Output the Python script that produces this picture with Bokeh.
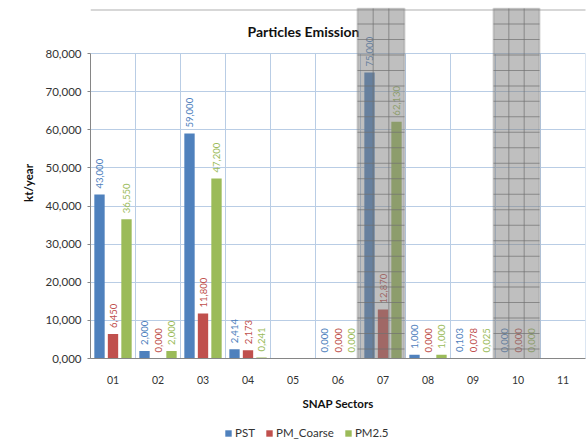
import math
from bokeh.plotting import figure
from bokeh.layouts import column
from bokeh.models import (ColumnDataSource, FixedTicker, Range1d, BoxAnnotation,
                          Label, Legend, LegendItem)
from bokeh.embed import file_html
from bokeh.resources import INLINE
from bokeh.core.properties import value

# ---------------- data ----------------
sectors = ["01", "02", "03", "04", "05", "06", "07", "08", "09", "10", "11"]
pst = [43000, 2000, 59000, 2414, None, 0, 75000, 1000, 103, 0, None]
pm_coarse = [6450, 0, 11800, 2173, None, 0, 12870, 0, 78, 0, None]
pm25 = [36550, 2000, 47200, 241, None, 0, 62130, 1000, 25, 0, None]
series_names = ["PST", "PM_Coarse", "PM2.5"]
series_values = [pst, pm_coarse, pm25]
series_colors = ["#4f81bd", "#c0504d", "#9bbb59"]
y_ticks = [0, 10000, 20000, 30000, 40000, 50000, 60000, 70000, 80000]
title_text = "Particles Emission"
x_title = "SNAP Sectors"
y_title = "kt/year"


def fmt(v):
    v = int(round(v))
    return f"{v // 1000},{v % 1000:03d}"


FONT = "Lato"

# layout geometry (canvas pixels)
W = 587
H_MAIN, H_LEG = 416, 25
FRAME_L, FRAME_R = 90, 585
FRAME_T, FRAME_B = 7, 358
Y_TOP_PX = 53          # where 80,000 sits
y_max = y_ticks[-1]
per_px = y_max / (FRAME_B - Y_TOP_PX)
y_end = y_max + (Y_TOP_PX - FRAME_T) * per_px

p = figure(width=W, height=H_MAIN, output_backend="svg", toolbar_location=None,
           x_range=Range1d(0.5, len(sectors) + 0.5), y_range=Range1d(0, y_end),
           min_border_left=FRAME_L, min_border_right=W - FRAME_R,
           min_border_top=FRAME_T, min_border_bottom=H_MAIN - FRAME_B,
           background_fill_color="white", border_fill_color="white",
           outline_line_color=None)

grid_col = "#b9cde5"
axis_col = "#868686"

# vertical category grid lines (only over the value range)
gx = [k + 0.5 for k in range(len(sectors) + 1)]
p.segment(x0=gx, x1=gx, y0=[0] * len(gx), y1=[y_max] * len(gx),
          line_color=grid_col, line_width=1, level="underlay")

offsets = [-0.3, 0.0, 0.3]
bar_w = 0.23
for name, vals, col, off in zip(series_names, series_values, series_colors, offsets):
    xs, tops, labels = [], [], []
    for i, v in enumerate(vals):
        if v is None:
            continue
        xs.append(i + 1 + off)
        tops.append(v)
        labels.append(fmt(v))
    src = ColumnDataSource(dict(x=xs, top=tops, label=labels))
    p.vbar(x="x", top="top", bottom=0, width=bar_w, source=src,
           fill_color=col, line_color=None)
    p.text(x="x", y="top", text="label", source=src, angle=math.pi / 2,
           text_align="left", text_baseline="middle", y_offset=-6,
           text_color=col, text_font=value(FONT), text_font_size="9.5px")

# axes
p.xaxis.ticker = FixedTicker(ticks=list(range(1, len(sectors) + 1)))
p.xaxis.major_label_overrides = {i + 1: s for i, s in enumerate(sectors)}
p.xaxis.major_tick_line_color = None
p.xaxis.minor_tick_line_color = None
p.xaxis.axis_line_color = axis_col
p.xaxis.major_label_text_font = FONT
p.xaxis.major_label_text_font_size = "10.5px"
p.xaxis.major_label_text_color = "#333333"
p.xaxis.major_label_standoff = 11
p.xaxis.axis_label = x_title
p.xaxis.axis_label_text_font = FONT
p.xaxis.axis_label_text_font_style = "bold"
p.xaxis.axis_label_text_font_size = "11.5px"
p.xaxis.axis_label_text_color = "#111111"
p.xaxis.axis_label_standoff = 10

p.yaxis.bounds = (0, y_max)
p.yaxis.ticker = FixedTicker(ticks=y_ticks)
p.yaxis.major_label_overrides = {t: fmt(t) for t in y_ticks}
p.yaxis.major_tick_out = 3
p.yaxis.major_tick_in = 0
p.yaxis.major_tick_line_color = axis_col
p.yaxis.minor_tick_line_color = None
p.yaxis.axis_line_color = axis_col
p.yaxis.major_label_text_font = FONT
p.yaxis.major_label_text_font_size = "11.5px"
p.yaxis.major_label_text_color = "#333333"
p.yaxis.major_label_standoff = 6
p.yaxis.axis_label = y_title
p.yaxis.axis_label_text_font = FONT
p.yaxis.axis_label_text_font_style = "bold"
p.yaxis.axis_label_text_font_size = "11.5px"
p.yaxis.axis_label_text_color = "#111111"
p.yaxis.axis_label_standoff = 8

p.xgrid.visible = False
p.ygrid.ticker = FixedTicker(ticks=y_ticks)
p.ygrid.grid_line_color = grid_col

# title (inside the extended frame)
p.add_layout(Label(x=303, y=31, x_units="canvas", y_units="canvas", text=title_text,
                   text_align="center", text_baseline="middle", text_font=FONT,
                   text_font_style="bold", text_font_size="14px", text_color="#111111"))


# ---------------- decorations (screen artifacts) ----------------
def cbox(l, r, t, b, color, alpha=1.0, lc=None, lw=1):
    p.add_layout(BoxAnnotation(left=l, right=r, top=t, bottom=b, left_units="canvas",
                               right_units="canvas", top_units="canvas",
                               bottom_units="canvas", fill_color=color, fill_alpha=alpha,
                               line_color=lc, line_width=lw, level="overlay"))


cbox(FRAME_L, FRAME_R + 2, 9, 10, "#b0b0b0")
for left, right in [(357, 404), (493, 539)]:
    top, bottom = 8, 364
    cbox(left, right, top, bottom, "#808080", 0.5, "#7a7a7a", 2)
    cw = (right - left) / 3
    for k in (1, 2):
        xx = left + k * cw
        cbox(xx - 0.5, xx + 0.5, top, bottom, "#707070", 0.7)
    rh = (bottom - top) / 23
    for k in range(1, 23):
        yy = top + k * rh
        cbox(left, right, yy - 0.5, yy + 0.5, "#707070", 0.7)

# ---------------- legend strip ----------------
lf = figure(width=W, height=H_LEG, output_backend="svg", toolbar_location=None,
            x_range=Range1d(0, 1), y_range=Range1d(0, 1), x_axis_type=None,
            y_axis_type=None, min_border=0, outline_line_color=None,
            background_fill_color="white", border_fill_color="white")
lf.grid.visible = False
leg_items = []
for name, col in zip(series_names, series_colors):
    # zero-height bars: invisible, only used for the legend swatches
    r = lf.vbar(x=[0.5], top=[0], bottom=[0], width=0.1, fill_color=col, line_color=None)
    leg_items.append(LegendItem(label=name, renderers=[r]))
legend = Legend(items=leg_items, orientation="horizontal", location=(134, 2),
                glyph_width=8, glyph_height=8, label_standoff=3, spacing=10,
                padding=0, margin=0, border_line_color=None, background_fill_alpha=0,
                label_text_font=FONT, label_text_font_size="11.5px",
                label_text_color="#333333")
lf.add_layout(legend)

layout = column(p, lf, spacing=0)
open("out.html", "w").write(file_html(layout, INLINE))
